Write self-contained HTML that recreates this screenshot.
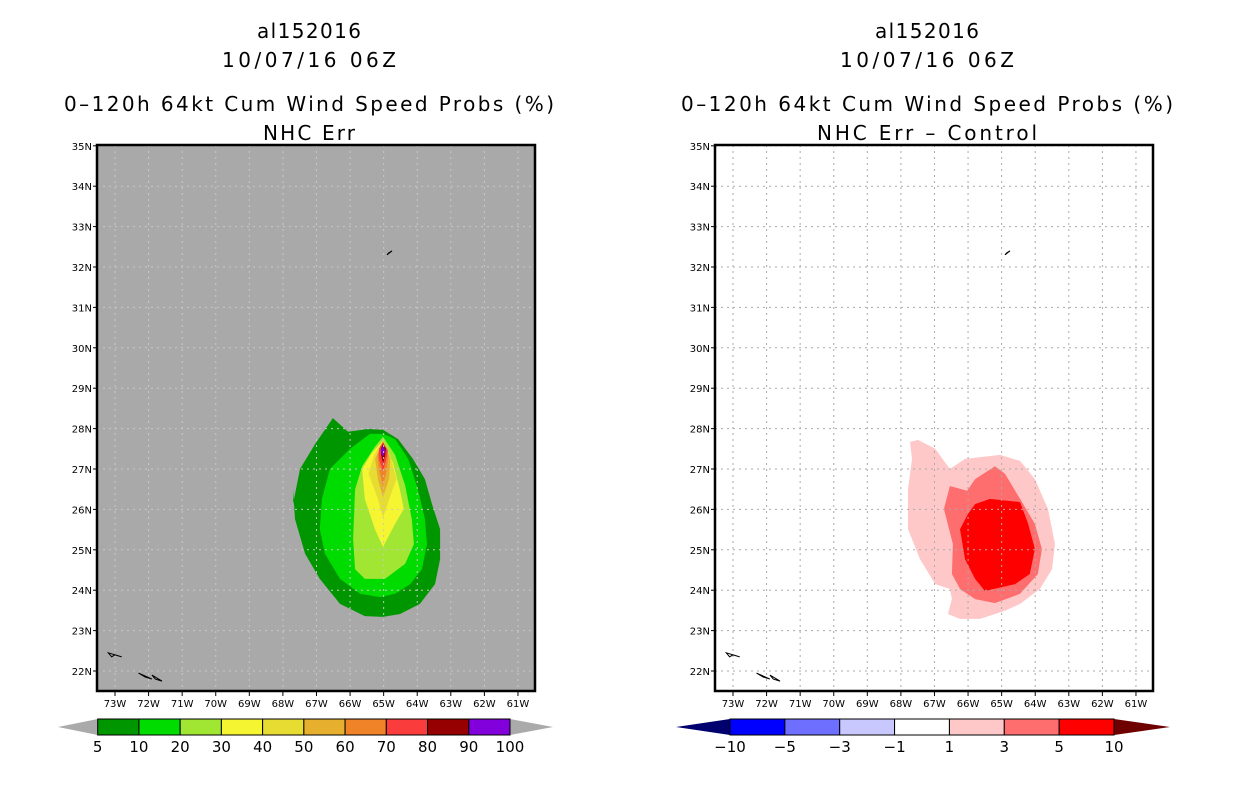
<!DOCTYPE html>
<html><head><meta charset="utf-8"><style>
body{margin:0;background:#fff;width:1236px;height:800px;overflow:hidden}
svg{display:block}
text{font-family:"DejaVu Sans","Liberation Sans",sans-serif}
</style></head><body>
<svg id="s" width="1236" height="800" xmlns="http://www.w3.org/2000/svg"></svg>
<script>
const latTicks=[22,23,24,25,26,27,28,29,30,31,32,33,34,35];
const lonTicks=[73,72,71,70,69,68,67,66,65,64,63,62,61];
const leftLevels=['5','10','20','30','40','50','60','70','80','90','100'];
const leftColors=['#009600','#00dc00','#a0e632','#f5f532','#e6dc32','#e6af2d','#f08228','#fa3c3c','#960000','#8200dc'];
const rightLevels=['−10','−5','−3','−1','1','3','5','10'];
const rightColors=['#0000ff','#6e6eff','#c8c8ff','#ffffff','#ffc8c8','#ff6e6e','#ff0000'];
const probPolys=[
 [[67.70,26.13],[67.49,27.00],[67.04,27.62],[66.51,28.26],[66.06,27.92],[65.47,27.99],[65.02,27.97],[64.57,27.74],[64.13,27.25],[63.77,26.75],[63.56,26.13],[63.32,25.51],[63.32,24.77],[63.47,24.15],[63.92,23.66],[64.51,23.41],[65.02,23.34],[65.56,23.36],[66.30,23.66],[66.90,24.28],[67.34,24.90],[67.64,25.76],[67.70,26.50]],
 [[65.02,27.87],[64.66,27.74],[64.27,27.25],[63.98,26.50],[63.77,25.76],[63.71,25.14],[63.86,24.52],[64.21,24.15],[64.66,23.91],[65.11,23.83],[65.70,23.91],[66.30,24.28],[66.75,24.90],[66.90,25.51],[66.84,26.26],[66.60,27.00],[66.00,27.50],[65.41,27.87]],
 [[65.02,27.80],[64.66,27.35],[64.36,26.60],[64.16,25.76],[64.10,25.14],[64.36,24.65],[64.96,24.28],[65.56,24.28],[65.85,24.52],[65.91,25.27],[65.85,26.50],[65.64,27.07],[65.26,27.55]],
 [[65.02,27.70],[64.72,27.15],[64.52,26.50],[64.40,26.01],[64.66,25.64],[65.02,25.07],[65.26,25.51],[65.56,26.26],[65.64,27.00],[65.35,27.40]],
 [[65.02,27.70],[64.78,27.25],[64.62,26.75],[64.78,26.38],[65.02,25.80],[65.17,26.26],[65.45,26.88],[65.28,27.35]],
 [[65.02,27.68],[64.80,27.25],[64.84,26.75],[65.02,26.30],[65.17,26.75],[65.25,27.25]],
 [[65.02,27.65],[64.86,27.37],[64.90,27.00],[65.02,26.60],[65.14,27.00],[65.18,27.37]],
 [[65.02,27.67],[64.87,27.45],[64.93,27.20],[65.02,26.95],[65.14,27.25],[65.14,27.50]],
 [[65.02,27.62],[64.93,27.50],[64.96,27.30],[65.02,27.15],[65.08,27.35],[65.08,27.52]],
 [[65.02,27.58],[64.95,27.45],[65.02,27.30],[65.09,27.45]]
];
const diffPolys=[
 [[67.73,27.67],[67.49,27.72],[66.98,27.50],[66.54,27.00],[66.09,27.25],[65.05,27.35],[64.45,27.20],[64.01,26.75],[63.62,26.01],[63.41,25.14],[63.50,24.52],[63.86,24.03],[64.45,23.66],[64.90,23.49],[65.64,23.29],[66.24,23.29],[66.60,23.41],[66.48,23.78],[66.54,24.03],[66.98,24.15],[67.43,24.77],[67.79,25.51],[67.79,26.50],[67.67,27.25]],
 [[66.54,26.58],[66.03,26.46],[65.79,26.75],[65.20,27.07],[64.90,26.88],[64.45,26.26],[64.01,25.64],[63.80,25.02],[63.92,24.40],[64.45,23.91],[65.20,23.68],[65.79,23.78],[66.24,24.03],[66.48,24.40],[66.45,25.14],[66.72,26.01]],
 [[65.79,26.13],[65.35,26.26],[64.45,26.18],[64.21,25.64],[64.01,25.02],[64.16,24.40],[64.60,24.15],[65.50,23.98],[65.79,24.28],[66.09,24.77],[66.24,25.51],[66.00,25.89]]
];
const titles=[['al152016','10/07/16 06Z','0–120h 64kt Cum Wind Speed Probs (%)','NHC Err'],['al152016','10/07/16 06Z','0–120h 64kt Cum Wind Speed Probs (%)','NHC Err – Control']];
const NS='http://www.w3.org/2000/svg',S=document.getElementById('s');
function mk(t,a,p){const e=document.createElementNS(NS,t);for(const k in a)e.setAttribute(k,a[k]);(p||S).appendChild(e);return e;}
const px0=115,pxd=33.58,py0=671,pyd=40.4;
function X(off,lon){return off+px0+(73-lon)*pxd;}
function Y(lat){return py0-(lat-22)*pyd;}
const titleLens=[[104,174,490,92],[104,174,492,220]];
function panel(i,off,bg,polys,cols,grid){
 const g=mk('g',{});
 
 
 const L=97+off,R=535+off,T=145,B=691;
 const r=mk('rect',{x:L,y:T,width:R-L,height:B-T,fill:bg},g);
 
 polys.forEach((p,j)=>{const e=mk('polygon',{points:p.map(q=>X(off,q[0]).toFixed(1)+','+Y(q[1]).toFixed(1)).join(' '),fill:cols[j]},g);
  });
 lonTicks.forEach(l=>{const x=X(off,l);const e=mk('line',{x1:x,x2:x,y1:T,y2:B,stroke:grid,'stroke-dasharray':'2,4','stroke-width':1},g);
  
  mk('line',{x1:x,x2:x,y1:B,y2:B+5,stroke:'#000'},g);
  const t=mk('text',{x:x,y:B+16,'font-size':10,'text-anchor':'middle'},g);t.textContent=l+'W';
  });
 latTicks.forEach(l=>{const y=Y(l);const e=mk('line',{x1:L,x2:R,y1:y,y2:y,stroke:grid,'stroke-dasharray':'2,4','stroke-width':1},g);
  
  mk('line',{x1:L-4,x2:L,y1:y,y2:y,stroke:'#000'},g);
  const t=mk('text',{x:L-5,y:y+4,'font-size':10,'text-anchor':'end'},g);t.textContent=l+'N';
  });
 const isl=[[[64.9,32.3],[64.75,32.4],[64.85,32.35]],[[73.2,22.45],[72.8,22.35],[73.0,22.4],[73.1,22.35]],[[72.3,21.95],[71.9,21.8],[72.1,21.85]],[[71.9,21.9],[71.6,21.75],[71.8,21.8]]];
 isl.forEach(p=>{const e=mk('polygon',{points:p.map(q=>X(off,q[0])+','+Y(q[1])).join(' '),fill:'none',stroke:'#000','stroke-width':1},g);
  });
 mk('rect',{x:L,y:T,width:R-L,height:B-T,fill:'none',stroke:'#000','stroke-width':2.5},g);
 const cx=(L+R)/2-7,ty=[38,67,111,140];
 titles[i].forEach((s,k)=>{const t=mk('text',{x:cx,y:ty[k],'font-size':20,'text-anchor':'middle',textLength:titleLens[i][k],lengthAdjust:'spacing'},g);t.textContent=s;
  });
}
panel(0,0,'#a9a9a9',probPolys,leftColors,'#c8c8c8');
panel(1,618,'#ffffff',diffPolys,rightColors.slice(4),'#aaaaaa');
function cbar(name,x0,x1,tl,tr,cols,labs,lc,rc){
 const g=mk('g',{});
 const y0=719,y1=735,w=(x1-x0)/cols.length;
 mk('polygon',{points:`${tl},727 ${x0},${y0} ${x0},${y1}`,fill:lc},g);
 mk('polygon',{points:`${tr},727 ${x1},${y0} ${x1},${y1}`,fill:rc},g);
 cols.forEach((c,j)=>{const e=mk('rect',{x:x0+j*w,y:y0,width:w,height:y1-y0,fill:c,stroke:'#000','stroke-width':1},g);
  });
 labs.forEach((s,j)=>{const t=mk('text',{x:x0+j*w,y:752,'font-size':15,'text-anchor':'middle'},g);t.textContent=s;
  });
}
cbar('probability-colorbar',97.7,510,58,553,leftColors,leftLevels,'#aaaaaa','#aaaaaa');
cbar('difference-colorbar',730,1114,676,1170,rightColors,rightLevels,'#00006e','#6e0000');
</script>
</body></html>
